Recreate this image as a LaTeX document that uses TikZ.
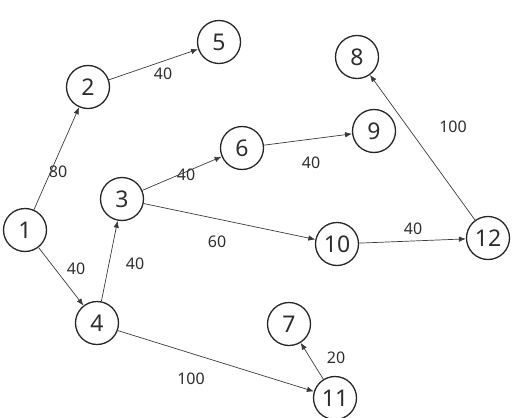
\documentclass[tikz,border=0pt]{standalone}
\usepackage{fontspec}
\setmainfont{Noto Sans}
\usepackage{tikz}
\usetikzlibrary{arrows.meta}
\definecolor{GLine}{HTML}{3A3A3A}
\definecolor{GText}{HTML}{2E2E2E}

\begin{document}
\begin{tikzpicture}[
    x=1pt, y=-1pt,
    vertex/.style={circle, draw=black!85, line width=1.3pt, minimum size=43pt, inner sep=0pt, fill=white, font=\fontsize{23}{23}\selectfont, text=GText},
    weight/.style={font=\fontsize{16}{16}\selectfont, text=GText, inner sep=0pt},
    arrow/.style={-{Latex[length=7pt, width=5.5pt]}, draw=GLine, line width=0.7pt}
  ]
    \useasboundingbox (0,0) rectangle (513,417);
    \node[vertex] (n1) at (25,230) {1};
    \node[vertex] (n2) at (88,87) {2};
    \node[vertex] (n3) at (122,199) {3};
    \node[vertex] (n4) at (97,323) {4};
    \node[vertex] (n5) at (219,42) {5};
    \node[vertex] (n6) at (242,148) {6};
    \node[vertex] (n7) at (289,324) {7};
    \node[vertex] (n8) at (357,57) {8};
    \node[vertex] (n9) at (374,131) {9};
    \node[vertex] (n10) at (337,244) {10};
    \node[vertex] (n11) at (335,398) {11};
    \node[vertex] (n12) at (488,238) {12};

    \node[weight] (w12) at (58,172) {80};
    \node[weight] (w14) at (76,269) {40};
    \node[weight] (w25) at (163,74) {40};
    \node[weight] (w43) at (135,264) {40};
    \node[weight] (w36) at (186,175) {40};
    \node[weight] (w310) at (217,242) {60};
    \node[weight] (w69) at (311,163) {40};
    \node[weight] (w1012) at (413,229) {40};
    \node[weight] (w128) at (453,127) {100};
    \node[weight] (w411) at (191,379) {100};
    \node[weight] (w117) at (336,358) {20};

    \draw[arrow] (n1) -- (n2);
    \draw[arrow] (n1) -- (n4);
    \draw[arrow] (n2) -- (n5);
    \draw[arrow] (n4) -- (n3);
    \draw[arrow] (n3) -- (n6);
    \draw[arrow] (n3) -- (n10);
    \draw[arrow] (n6) -- (n9);
    \draw[arrow] (n10) -- (n12);
    \draw[arrow] (n12) -- (n8);
    \draw[arrow] (n4.-20) -- (n11);
    \draw[arrow] (n11) -- (n7);
  \end{tikzpicture}
\end{document}
